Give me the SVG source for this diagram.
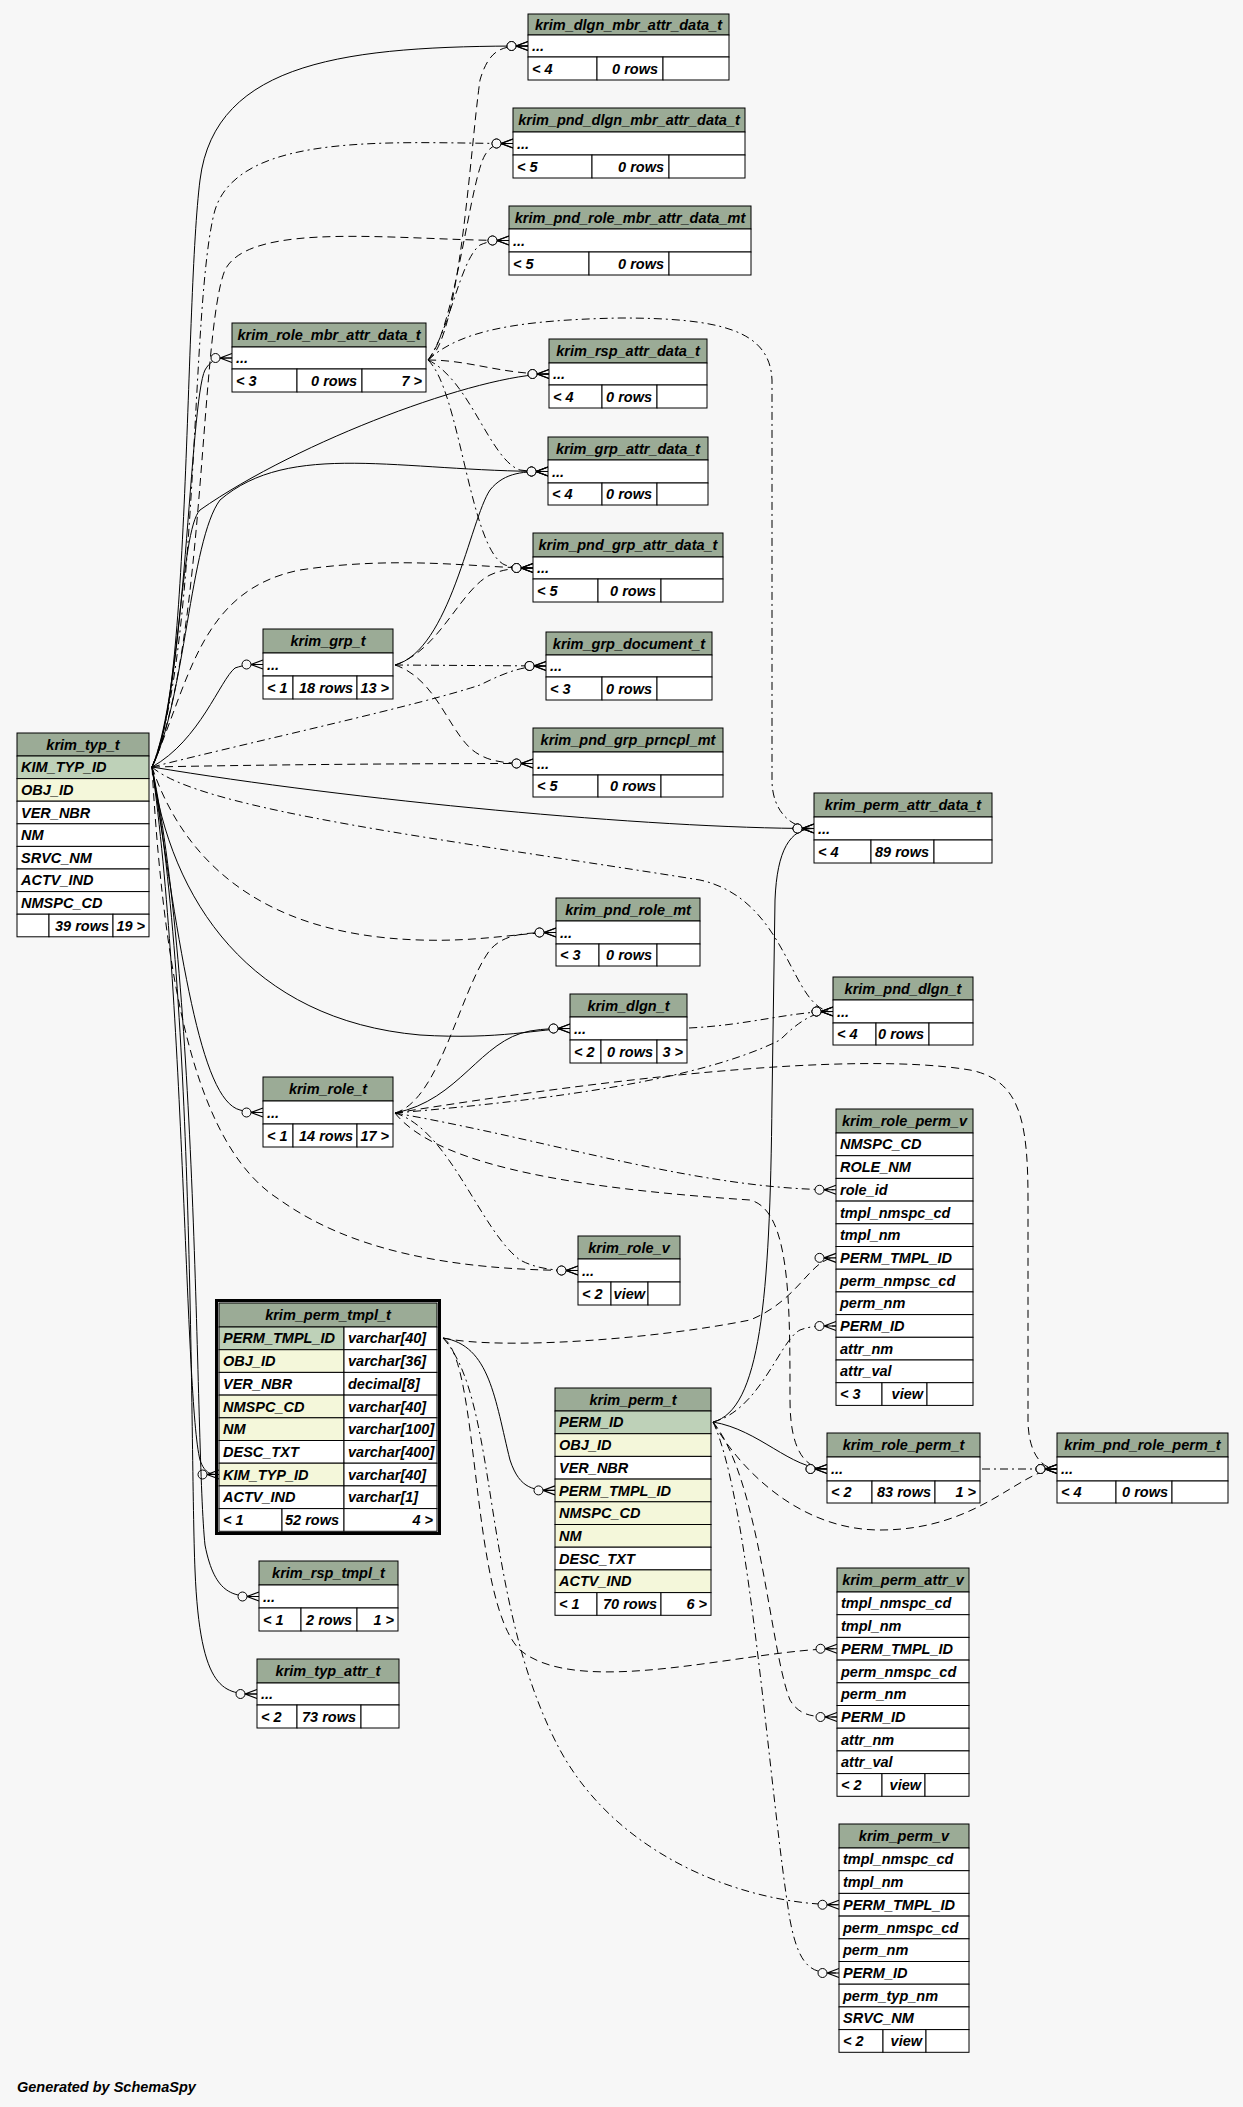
<svg xmlns="http://www.w3.org/2000/svg" width="1243" height="2107" viewBox="0 0 1243 2107">
<style>
text{font-family:"Liberation Sans",Arial,Helvetica,sans-serif;font-size:14.5px;font-weight:bold;font-style:italic;fill:#000}
.c{text-anchor:middle}.r{text-anchor:end}
.n rect{stroke:#000;stroke-width:1}
.h{fill:#9bab96}.pk{fill:#bed1b8}.fk{fill:#f4f7da}.w{fill:#fff}
.e path{fill:none;stroke:#000;stroke-width:1;marker-end:url(#cf)}
.e path.d{stroke-dasharray:8,5}
.e path.dd{stroke-dasharray:8,4,2,4}
</style>
<defs>
<marker id="cf" markerUnits="userSpaceOnUse" markerWidth="26" markerHeight="14" viewBox="-23 -7 26 14" refX="0" refY="0" orient="auto" overflow="visible">
<path d="M-12,0 L0,-4.5 M-12,0 L0,0 M-12,0 L0,4.5" stroke="#000" stroke-width="1.2" fill="none"/>
<circle cx="-16.5" cy="0" r="4.5" fill="#f7f7f7" stroke="#000" stroke-width="1"/>
</marker>
</defs>
<rect width="1243" height="2107" fill="#f7f7f7"/>

<g class="e">
<path d="M152,767 C190,700 185,300 200,180 C215,60 350,46 528,46"/>
<path class="dd" d="M152,767 C200,650 190,300 215,210 C240,130 400,143.5 513,143.5"/>
<path class="d" d="M152,767 C205,650 200,330 225,270 C250,220 400,240.5 509,240.5"/>
<path d="M152,767 C185,700 190,400 205,370 C212,358 220,358 232,358"/>
<path d="M152,767 C180,700 180,530 200,510 C300,440 480,374 549,374"/>
<path d="M152,767 C185,700 190,540 220,500 C290,440 400,471.5 548,471.5"/>
<path class="d" d="M152,767 C190,680 200,590 300,570 C400,555 480,568 533,568"/>
<path d="M152,767 C200,740 220,680 235,668 C245,664.5 252,664.5 263,664.5"/>
<path class="dd" d="M152,767 C260,740 420,705 480,685 C510,670 525,666 546,666"/>
<path class="d" d="M152,767 C300,764 450,763.5 533,763.5"/>
<path d="M152,767 C350,800 650,828.5 814,828.5"/>
<path class="dd" d="M152,767 C200,810 450,840 700,880 C790,900 790,1011.5 833,1011.5"/>
<path class="d" d="M152,767 C180,850 250,935 420,940 C480,942 520,932.5 556,932.5"/>
<path d="M152,767 C170,900 250,1020 420,1035 C500,1040 540,1028.5 570,1028.5"/>
<path d="M152,767 C180,950 200,1100 240,1110 C250,1112.5 255,1112.5 263,1112.5"/>
<path class="d" d="M152,767 C165,1000 200,1150 280,1200 C350,1250 450,1270.5 578,1270.5"/>
<path d="M152,767 C185,1000 185,1400 200,1460 C205,1474.5 212,1474.5 219,1474.5"/>
<path d="M152,767 C200,1000 195,1450 205,1545 C215,1596.5 235,1596.5 259,1596.5"/>
<path d="M152,767 C195,1000 190,1450 195,1570 C200,1694 225,1694 257,1694"/>

<path class="d" d="M428,360 C460,340 470,150 480,80 C490,46 505,46 528,46"/>
<path class="d" d="M428,360 C455,330 470,180 485,155 C492,143.5 500,143.5 513,143.5"/>
<path class="dd" d="M428,360 C450,330 460,260 480,245 C490,240.5 498,240.5 509,240.5"/>
<path class="d" d="M428,360 C470,360 500,374 549,374"/>
<path class="dd" d="M428,360 C470,380 490,460 520,470 C530,471.5 540,471.5 548,471.5"/>
<path class="dd" d="M428,360 C460,390 470,550 505,565 C515,568 525,568 533,568"/>
<path class="dd" d="M428,360 C460,330 520,320 620,318 C720,318 770,330 772,380 L772,780 C772,810 790,828.5 814,828.5"/>

<path d="M395,665 C450,650 470,520 490,490 C505,471.5 525,471.5 548,471.5"/>
<path class="dd" d="M395,665 L546,666"/>
<path class="d" d="M395,665 C440,680 450,740 480,755 C495,763.5 515,763.5 533,763.5"/>
<path class="d" d="M395,665 C440,650 460,590 490,575 C505,568 520,568 533,568"/>

<path class="d" d="M395,1113 C440,1100 460,990 490,950 C505,932.5 530,932.5 556,932.5"/>
<path d="M395,1113 C460,1100 480,1040 530,1031 C545,1028.5 555,1028.5 570,1028.5"/>
<path class="dd" d="M395,1113 C550,1100 700,1080 780,1040 C800,1020 815,1011.5 833,1011.5"/>
<path class="d" d="M395,1113 C600,1080 850,1050 970,1070 C1020,1080 1028,1120 1028,1200 L1028,1420 C1028,1450 1040,1469 1057,1469"/>
<path class="dd" d="M395,1113 C550,1140 700,1189.75 836,1189.75"/>
<path class="d" d="M395,1113 C440,1170 600,1190 750,1200 C790,1210 790,1300 790,1400 C790,1450 805,1469 827,1469"/>
<path class="dd" d="M395,1113 C450,1130 480,1230 520,1260 C540,1270.5 560,1270.5 578,1270.5"/>

<path d="M443,1338 C490,1345 495,1400 510,1460 C520,1490.4 535,1490.4 555,1490.4"/>
<path class="d" d="M443,1338 C500,1350 650,1340 750,1320 C800,1300 810,1257.85 836,1257.85"/>
<path class="d" d="M443,1338 C480,1360 470,1600 520,1650 C580,1700 750,1648.75 837,1648.75"/>
<path class="dd" d="M443,1338 C500,1400 480,1600 560,1750 C620,1860 750,1904.75 839,1904.75"/>

<path d="M713,1422 C760,1410 770,1300 772,1100 L775,900 C777,850 790,828.5 814,828.5"/>
<path class="dd" d="M713,1422 C760,1410 780,1340 800,1330 C810,1326 820,1326 836,1326"/>
<path d="M713,1422 C760,1430 790,1469 827,1469"/>
<path class="d" d="M713,1422 C740,1470 800,1530 880,1530 C980,1530 1020,1469 1057,1469"/>
<path class="d" d="M713,1422 C760,1480 770,1650 790,1700 C800,1717 815,1717 837,1717"/>
<path class="dd" d="M713,1422 C750,1500 770,1800 790,1920 C800,1973 815,1973 839,1973"/>

<path class="dd" d="M982,1469 L1057,1469"/>
<path class="dd" d="M689,1028 C750,1025 790,1011.5 833,1011.5"/>
</g>

<g class="n" id="krim_dlgn_mbr_attr_data_t">
<rect class="h" x="528" y="14" width="201" height="21"/><rect class="w" x="528" y="35" width="201" height="22"/>
<rect class="w" x="528" y="57" width="69" height="23"/><rect class="w" x="597" y="57" width="66" height="23"/><rect class="w" x="663" y="57" width="66" height="23"/>
<text class="c" x="628.5" y="30">krim_dlgn_mbr_attr_data_t</text><text x="532" y="51">...</text>
<text x="532" y="73.5">&lt; 4</text><text class="r" x="658" y="73.5">0 rows</text>
</g>
<g class="n" id="krim_pnd_dlgn_mbr_attr_data_t">
<rect class="h" x="513" y="108" width="232" height="24"/><rect class="w" x="513" y="132" width="232" height="23"/>
<rect class="w" x="513" y="155" width="79" height="23"/><rect class="w" x="592" y="155" width="77" height="23"/><rect class="w" x="669" y="155" width="76" height="23"/>
<text class="c" x="629" y="125">krim_pnd_dlgn_mbr_attr_data_t</text><text x="517" y="148.5">...</text>
<text x="517" y="171.5">&lt; 5</text><text class="r" x="664" y="171.5">0 rows</text>
</g>
<g class="n" id="krim_pnd_role_mbr_attr_data_mt">
<rect class="h" x="509" y="206" width="242" height="23"/><rect class="w" x="509" y="229" width="242" height="23"/>
<rect class="w" x="509" y="252" width="80" height="23"/><rect class="w" x="589" y="252" width="80" height="23"/><rect class="w" x="669" y="252" width="82" height="23"/>
<text class="c" x="630" y="222.5">krim_pnd_role_mbr_attr_data_mt</text><text x="513" y="245.5">...</text>
<text x="513" y="268.5">&lt; 5</text><text class="r" x="664" y="268.5">0 rows</text>
</g>
<g class="n" id="krim_role_mbr_attr_data_t">
<rect class="h" x="232" y="323" width="194" height="24"/><rect class="w" x="232" y="347" width="194" height="22"/>
<rect class="w" x="232" y="369" width="65" height="23"/><rect class="w" x="297" y="369" width="65" height="23"/><rect class="w" x="362" y="369" width="64" height="23"/>
<text class="c" x="329" y="340">krim_role_mbr_attr_data_t</text><text x="236" y="363">...</text>
<text x="236" y="385.5">&lt; 3</text><text class="r" x="357" y="385.5">0 rows</text><text class="r" x="422" y="385.5">7 &gt;</text>
</g>
<g class="n" id="krim_rsp_attr_data_t">
<rect class="h" x="549" y="339" width="158" height="24"/><rect class="w" x="549" y="363" width="158" height="22"/>
<rect class="w" x="549" y="385" width="53" height="23"/><rect class="w" x="602" y="385" width="55" height="23"/><rect class="w" x="657" y="385" width="50" height="23"/>
<text class="c" x="628" y="356">krim_rsp_attr_data_t</text><text x="553" y="379">...</text>
<text x="553" y="401.5">&lt; 4</text><text class="r" x="652" y="401.5">0 rows</text>
</g>
<g class="n" id="krim_grp_attr_data_t">
<rect class="h" x="548" y="437" width="160" height="23"/><rect class="w" x="548" y="460" width="160" height="23"/>
<rect class="w" x="548" y="483" width="54" height="22"/><rect class="w" x="602" y="483" width="55" height="22"/><rect class="w" x="657" y="483" width="51" height="22"/>
<text class="c" x="628" y="453.5">krim_grp_attr_data_t</text><text x="552" y="476.5">...</text>
<text x="552" y="499">&lt; 4</text><text class="r" x="652" y="499">0 rows</text>
</g>
<g class="n" id="krim_pnd_grp_attr_data_t">
<rect class="h" x="533" y="533" width="190" height="24"/><rect class="w" x="533" y="557" width="190" height="22"/>
<rect class="w" x="533" y="579" width="65" height="23"/><rect class="w" x="598" y="579" width="63" height="23"/><rect class="w" x="661" y="579" width="62" height="23"/>
<text class="c" x="628" y="550">krim_pnd_grp_attr_data_t</text><text x="537" y="573">...</text>
<text x="537" y="595.5">&lt; 5</text><text class="r" x="656" y="595.5">0 rows</text>
</g>
<g class="n" id="krim_grp_t">
<rect class="h" x="263" y="629" width="130" height="24"/><rect class="w" x="263" y="653" width="130" height="23"/>
<rect class="w" x="263" y="676" width="30" height="23"/><rect class="w" x="293" y="676" width="64" height="23"/><rect class="w" x="357" y="676" width="36" height="23"/>
<text class="c" x="328" y="646">krim_grp_t</text><text x="267" y="669.5">...</text>
<text x="267" y="692.5">&lt; 1</text><text class="r" x="353" y="692.5">18 rows</text><text class="r" x="389" y="692.5">13 &gt;</text>
</g>
<g class="n" id="krim_grp_document_t">
<rect class="h" x="546" y="632" width="166" height="23"/><rect class="w" x="546" y="655" width="166" height="22"/>
<rect class="w" x="546" y="677" width="56" height="23"/><rect class="w" x="602" y="677" width="55" height="23"/><rect class="w" x="657" y="677" width="55" height="23"/>
<text class="c" x="629" y="648.5">krim_grp_document_t</text><text x="550" y="671">...</text>
<text x="550" y="693.5">&lt; 3</text><text class="r" x="652" y="693.5">0 rows</text>
</g>
<g class="n" id="krim_pnd_grp_prncpl_mt">
<rect class="h" x="533" y="728" width="190" height="24"/><rect class="w" x="533" y="752" width="190" height="23"/>
<rect class="w" x="533" y="775" width="65" height="22"/><rect class="w" x="598" y="775" width="63" height="22"/><rect class="w" x="661" y="775" width="62" height="22"/>
<text class="c" x="628" y="745">krim_pnd_grp_prncpl_mt</text><text x="537" y="768.5">...</text>
<text x="537" y="791">&lt; 5</text><text class="r" x="656" y="791">0 rows</text>
</g>
<g class="n" id="krim_typ_t">
<rect class="h" x="17" y="733" width="132" height="23"/>
<rect class="pk" x="17" y="756" width="132" height="22.6"/>
<rect class="fk" x="17" y="778.6" width="132" height="22.6"/>
<rect class="w" x="17" y="801.2" width="132" height="22.6"/>
<rect class="w" x="17" y="823.8" width="132" height="22.6"/>
<rect class="w" x="17" y="846.4" width="132" height="22.6"/>
<rect class="w" x="17" y="869" width="132" height="22.6"/>
<rect class="w" x="17" y="891.6" width="132" height="22.6"/>
<rect class="w" x="17" y="914.2" width="32" height="22.6"/><rect class="w" x="49" y="914.2" width="64" height="22.6"/><rect class="w" x="113" y="914.2" width="36" height="22.6"/>
<text class="c" x="83" y="749.5">krim_typ_t</text>
<text x="21" y="772.3">KIM_TYP_ID</text><text x="21" y="794.9">OBJ_ID</text><text x="21" y="817.5">VER_NBR</text><text x="21" y="840.1">NM</text>
<text x="21" y="862.7">SRVC_NM</text><text x="21" y="885.3">ACTV_IND</text><text x="21" y="907.9">NMSPC_CD</text>
<text class="r" x="109" y="930.5">39 rows</text><text class="r" x="145" y="930.5">19 &gt;</text>
</g>
<g class="n" id="krim_perm_attr_data_t">
<rect class="h" x="814" y="793" width="178" height="24"/><rect class="w" x="814" y="817" width="178" height="23"/>
<rect class="w" x="814" y="840" width="57" height="23"/><rect class="w" x="871" y="840" width="63" height="23"/><rect class="w" x="934" y="840" width="58" height="23"/>
<text class="c" x="903" y="810">krim_perm_attr_data_t</text><text x="818" y="833.5">...</text>
<text x="818" y="856.5">&lt; 4</text><text class="r" x="929" y="856.5">89 rows</text>
</g>
<g class="n" id="krim_pnd_role_mt">
<rect class="h" x="556" y="898" width="144" height="23"/><rect class="w" x="556" y="921" width="144" height="23"/>
<rect class="w" x="556" y="944" width="43" height="22"/><rect class="w" x="599" y="944" width="58" height="22"/><rect class="w" x="657" y="944" width="43" height="22"/>
<text class="c" x="628" y="914.5">krim_pnd_role_mt</text><text x="560" y="937.5">...</text>
<text x="560" y="960">&lt; 3</text><text class="r" x="652" y="960">0 rows</text>
</g>
<g class="n" id="krim_dlgn_t">
<rect class="h" x="570" y="994" width="117" height="23"/><rect class="w" x="570" y="1017" width="117" height="23"/>
<rect class="w" x="570" y="1040" width="31" height="23"/><rect class="w" x="601" y="1040" width="56" height="23"/><rect class="w" x="657" y="1040" width="30" height="23"/>
<text class="c" x="628.5" y="1010.5">krim_dlgn_t</text><text x="574" y="1033.5">...</text>
<text x="574" y="1056.5">&lt; 2</text><text class="r" x="653" y="1056.5">0 rows</text><text class="r" x="683" y="1056.5">3 &gt;</text>
</g>
<g class="n" id="krim_pnd_dlgn_t">
<rect class="h" x="833" y="977" width="140" height="23"/><rect class="w" x="833" y="1000" width="140" height="23"/>
<rect class="w" x="833" y="1023" width="43" height="22"/><rect class="w" x="876" y="1023" width="53" height="22"/><rect class="w" x="929" y="1023" width="44" height="22"/>
<text class="c" x="903" y="993.5">krim_pnd_dlgn_t</text><text x="837" y="1016.5">...</text>
<text x="837" y="1039">&lt; 4</text><text class="r" x="924" y="1039">0 rows</text>
</g>
<g class="n" id="krim_role_t">
<rect class="h" x="263" y="1077" width="130" height="24"/><rect class="w" x="263" y="1101" width="130" height="23"/>
<rect class="w" x="263" y="1124" width="30" height="23"/><rect class="w" x="293" y="1124" width="64" height="23"/><rect class="w" x="357" y="1124" width="36" height="23"/>
<text class="c" x="328" y="1094">krim_role_t</text><text x="267" y="1117.5">...</text>
<text x="267" y="1140.5">&lt; 1</text><text class="r" x="353" y="1140.5">14 rows</text><text class="r" x="389" y="1140.5">17 &gt;</text>
</g>
<g class="n" id="krim_role_v">
<rect class="h" x="578" y="1236" width="102" height="23"/><rect class="w" x="578" y="1259" width="102" height="23"/>
<rect class="w" x="578" y="1282" width="33" height="23"/><rect class="w" x="611" y="1282" width="37" height="23"/><rect class="w" x="648" y="1282" width="32" height="23"/>
<text class="c" x="629" y="1252.5">krim_role_v</text><text x="582" y="1275.5">...</text>
<text x="582" y="1298.5">&lt; 2</text><text class="r" x="645" y="1298.5">view</text>
</g>
<g class="n" id="krim_role_perm_v">
<rect class="h" x="836" y="1109" width="137" height="24"/>
<rect class="w" x="836" y="1133" width="137" height="22.7"/><rect class="w" x="836" y="1155.7" width="137" height="22.7"/>
<rect class="w" x="836" y="1178.4" width="137" height="22.7"/><rect class="w" x="836" y="1201.1" width="137" height="22.7"/>
<rect class="w" x="836" y="1223.8" width="137" height="22.7"/><rect class="w" x="836" y="1246.5" width="137" height="22.7"/>
<rect class="w" x="836" y="1269.2" width="137" height="22.7"/><rect class="w" x="836" y="1291.9" width="137" height="22.7"/>
<rect class="w" x="836" y="1314.6" width="137" height="22.7"/><rect class="w" x="836" y="1337.3" width="137" height="22.7"/>
<rect class="w" x="836" y="1360" width="137" height="22.7"/>
<rect class="w" x="836" y="1382.7" width="46" height="22.7"/><rect class="w" x="882" y="1382.7" width="45" height="22.7"/><rect class="w" x="927" y="1382.7" width="46" height="22.7"/>
<text class="c" x="904.5" y="1126">krim_role_perm_v</text>
<text x="840" y="1149.4">NMSPC_CD</text><text x="840" y="1172.1">ROLE_NM</text><text x="840" y="1194.8">role_id</text>
<text x="840" y="1217.5">tmpl_nmspc_cd</text><text x="840" y="1240.2">tmpl_nm</text><text x="840" y="1262.9">PERM_TMPL_ID</text>
<text x="840" y="1285.6">perm_nmpsc_cd</text><text x="840" y="1308.3">perm_nm</text><text x="840" y="1331">PERM_ID</text>
<text x="840" y="1353.7">attr_nm</text><text x="840" y="1376.4">attr_val</text>
<text x="840" y="1399.1">&lt; 3</text><text class="r" x="923" y="1399.1">view</text>
</g>
<g class="n" id="krim_perm_tmpl_t">
<rect x="216.5" y="1300.5" width="223" height="233" fill="none" style="stroke-width:3"/>
<rect class="h" x="219" y="1303" width="218" height="24"/>
<rect class="pk" x="219" y="1327" width="125" height="22.7"/><rect class="w" x="344" y="1327" width="93" height="22.7"/>
<rect class="fk" x="219" y="1349.7" width="125" height="22.7"/><rect class="w" x="344" y="1349.7" width="93" height="22.7"/>
<rect class="w" x="219" y="1372.4" width="125" height="22.7"/><rect class="w" x="344" y="1372.4" width="93" height="22.7"/>
<rect class="fk" x="219" y="1395.1" width="125" height="22.7"/><rect class="w" x="344" y="1395.1" width="93" height="22.7"/>
<rect class="fk" x="219" y="1417.8" width="125" height="22.7"/><rect class="w" x="344" y="1417.8" width="93" height="22.7"/>
<rect class="w" x="219" y="1440.5" width="125" height="22.7"/><rect class="w" x="344" y="1440.5" width="93" height="22.7"/>
<rect class="fk" x="219" y="1463.2" width="125" height="22.7"/><rect class="w" x="344" y="1463.2" width="93" height="22.7"/>
<rect class="w" x="219" y="1485.9" width="125" height="22.7"/><rect class="w" x="344" y="1485.9" width="93" height="22.7"/>
<rect class="w" x="219" y="1508.6" width="63" height="22.7"/><rect class="w" x="282" y="1508.6" width="62" height="22.7"/><rect class="w" x="344" y="1508.6" width="93" height="22.7"/>
<text class="c" x="328" y="1320">krim_perm_tmpl_t</text>
<text x="223" y="1343.4">PERM_TMPL_ID</text><text x="348" y="1343.4">varchar[40]</text>
<text x="223" y="1366.1">OBJ_ID</text><text x="348" y="1366.1">varchar[36]</text>
<text x="223" y="1388.8">VER_NBR</text><text x="348" y="1388.8">decimal[8]</text>
<text x="223" y="1411.5">NMSPC_CD</text><text x="348" y="1411.5">varchar[40]</text>
<text x="223" y="1434.2">NM</text><text x="348" y="1434.2">varchar[100]</text>
<text x="223" y="1456.9">DESC_TXT</text><text x="348" y="1456.9">varchar[400]</text>
<text x="223" y="1479.6">KIM_TYP_ID</text><text x="348" y="1479.6">varchar[40]</text>
<text x="223" y="1502.3">ACTV_IND</text><text x="348" y="1502.3">varchar[1]</text>
<text x="223" y="1525">&lt; 1</text><text class="r" x="339" y="1525">52 rows</text><text class="r" x="433" y="1525">4 &gt;</text>
</g>
<g class="n" id="krim_perm_t">
<rect class="h" x="555" y="1388" width="156" height="23"/>
<rect class="pk" x="555" y="1411" width="156" height="22.7"/><rect class="fk" x="555" y="1433.7" width="156" height="22.7"/>
<rect class="w" x="555" y="1456.4" width="156" height="22.7"/><rect class="fk" x="555" y="1479.1" width="156" height="22.7"/>
<rect class="fk" x="555" y="1501.8" width="156" height="22.7"/><rect class="fk" x="555" y="1524.5" width="156" height="22.7"/>
<rect class="w" x="555" y="1547.2" width="156" height="22.7"/><rect class="fk" x="555" y="1569.9" width="156" height="22.7"/>
<rect class="w" x="555" y="1592.6" width="42" height="22.7"/><rect class="w" x="597" y="1592.6" width="64" height="22.7"/><rect class="w" x="661" y="1592.6" width="50" height="22.7"/>
<text class="c" x="633" y="1404.5">krim_perm_t</text>
<text x="559" y="1427.4">PERM_ID</text><text x="559" y="1450.1">OBJ_ID</text><text x="559" y="1472.8">VER_NBR</text>
<text x="559" y="1495.5">PERM_TMPL_ID</text><text x="559" y="1518.2">NMSPC_CD</text><text x="559" y="1540.9">NM</text>
<text x="559" y="1563.6">DESC_TXT</text><text x="559" y="1586.3">ACTV_IND</text>
<text x="559" y="1609">&lt; 1</text><text class="r" x="657" y="1609">70 rows</text><text class="r" x="707" y="1609">6 &gt;</text>
</g>
<g class="n" id="krim_role_perm_t">
<rect class="h" x="827" y="1433" width="153" height="24"/><rect class="w" x="827" y="1457" width="153" height="24"/>
<rect class="w" x="827" y="1481" width="45" height="22"/><rect class="w" x="872" y="1481" width="63" height="22"/><rect class="w" x="935" y="1481" width="45" height="22"/>
<text class="c" x="903.5" y="1450">krim_role_perm_t</text><text x="831" y="1474">...</text>
<text x="831" y="1497">&lt; 2</text><text class="r" x="931" y="1497">83 rows</text><text class="r" x="976" y="1497">1 &gt;</text>
</g>
<g class="n" id="krim_pnd_role_perm_t">
<rect class="h" x="1057" y="1433" width="171" height="24"/><rect class="w" x="1057" y="1457" width="171" height="24"/>
<rect class="w" x="1057" y="1481" width="59" height="22"/><rect class="w" x="1116" y="1481" width="56" height="22"/><rect class="w" x="1172" y="1481" width="56" height="22"/>
<text class="c" x="1142.5" y="1450">krim_pnd_role_perm_t</text><text x="1061" y="1474">...</text>
<text x="1061" y="1497">&lt; 4</text><text class="r" x="1168" y="1497">0 rows</text>
</g>
<g class="n" id="krim_rsp_tmpl_t">
<rect class="h" x="259" y="1561" width="139" height="24"/><rect class="w" x="259" y="1585" width="139" height="23"/>
<rect class="w" x="259" y="1608" width="42" height="23"/><rect class="w" x="301" y="1608" width="56" height="23"/><rect class="w" x="357" y="1608" width="41" height="23"/>
<text class="c" x="328.5" y="1578">krim_rsp_tmpl_t</text><text x="263" y="1601.5">...</text>
<text x="263" y="1624.5">&lt; 1</text><text class="r" x="352" y="1624.5">2 rows</text><text class="r" x="394" y="1624.5">1 &gt;</text>
</g>
<g class="n" id="krim_typ_attr_t">
<rect class="h" x="257" y="1659" width="142" height="24"/><rect class="w" x="257" y="1683" width="142" height="22"/>
<rect class="w" x="257" y="1705" width="40" height="23"/><rect class="w" x="297" y="1705" width="64" height="23"/><rect class="w" x="361" y="1705" width="38" height="23"/>
<text class="c" x="328" y="1676">krim_typ_attr_t</text><text x="261" y="1699">...</text>
<text x="261" y="1721.5">&lt; 2</text><text class="r" x="356" y="1721.5">73 rows</text>
</g>
<g class="n" id="krim_perm_attr_v">
<rect class="h" x="837" y="1568" width="132" height="24"/>
<rect class="w" x="837" y="1592" width="132" height="22.7"/><rect class="w" x="837" y="1614.7" width="132" height="22.7"/>
<rect class="w" x="837" y="1637.4" width="132" height="22.7"/><rect class="w" x="837" y="1660.1" width="132" height="22.7"/>
<rect class="w" x="837" y="1682.8" width="132" height="22.7"/><rect class="w" x="837" y="1705.5" width="132" height="22.7"/>
<rect class="w" x="837" y="1728.2" width="132" height="22.7"/><rect class="w" x="837" y="1750.9" width="132" height="22.7"/>
<rect class="w" x="837" y="1773.6" width="45" height="22.7"/><rect class="w" x="882" y="1773.6" width="43" height="22.7"/><rect class="w" x="925" y="1773.6" width="44" height="22.7"/>
<text class="c" x="903" y="1585">krim_perm_attr_v</text>
<text x="841" y="1608.4">tmpl_nmspc_cd</text><text x="841" y="1631.1">tmpl_nm</text><text x="841" y="1653.8">PERM_TMPL_ID</text>
<text x="841" y="1676.5">perm_nmspc_cd</text><text x="841" y="1699.2">perm_nm</text><text x="841" y="1721.9">PERM_ID</text>
<text x="841" y="1744.6">attr_nm</text><text x="841" y="1767.3">attr_val</text>
<text x="841" y="1790">&lt; 2</text><text class="r" x="921" y="1790">view</text>
</g>
<g class="n" id="krim_perm_v">
<rect class="h" x="839" y="1824" width="130" height="24"/>
<rect class="w" x="839" y="1848" width="130" height="22.7"/><rect class="w" x="839" y="1870.7" width="130" height="22.7"/>
<rect class="w" x="839" y="1893.4" width="130" height="22.7"/><rect class="w" x="839" y="1916.1" width="130" height="22.7"/>
<rect class="w" x="839" y="1938.8" width="130" height="22.7"/><rect class="w" x="839" y="1961.5" width="130" height="22.7"/>
<rect class="w" x="839" y="1984.2" width="130" height="22.7"/><rect class="w" x="839" y="2006.9" width="130" height="22.7"/>
<rect class="w" x="839" y="2029.6" width="44" height="22.7"/><rect class="w" x="883" y="2029.6" width="43" height="22.7"/><rect class="w" x="926" y="2029.6" width="43" height="22.7"/>
<text class="c" x="904" y="1841">krim_perm_v</text>
<text x="843" y="1864.4">tmpl_nmspc_cd</text><text x="843" y="1887.1">tmpl_nm</text><text x="843" y="1909.8">PERM_TMPL_ID</text>
<text x="843" y="1932.5">perm_nmspc_cd</text><text x="843" y="1955.2">perm_nm</text><text x="843" y="1977.9">PERM_ID</text>
<text x="843" y="2000.6">perm_typ_nm</text><text x="843" y="2023.3">SRVC_NM</text>
<text x="843" y="2046">&lt; 2</text><text class="r" x="922" y="2046">view</text>
</g>
<text x="17" y="2092">Generated by SchemaSpy</text>
</svg>
